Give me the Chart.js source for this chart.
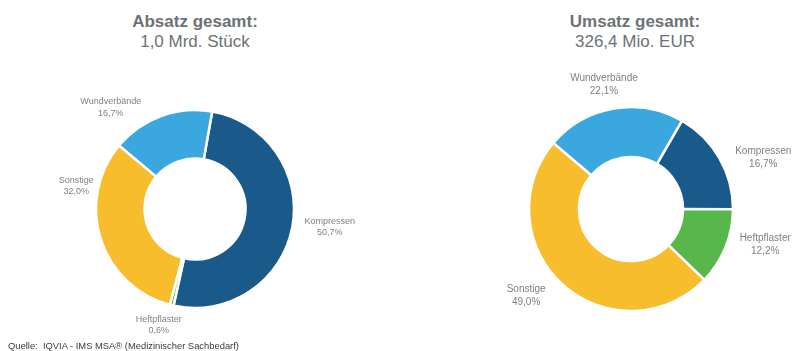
<!DOCTYPE html>
<html>
<head>
<meta charset="utf-8">
<script src="https://cdn.jsdelivr.net/npm/chart.js@4/dist/chart.umd.min.js"></script>
<style>
  html, body { margin:0; padding:0; background:#fff; }
  #wrap { position:relative; width:810px; height:351px; overflow:hidden; font-family:"Liberation Sans", Arial, sans-serif; }
  .title { position:absolute; width:300px; text-align:center; color:#6c7276; font-size:17px; line-height:20px; }
  .title b { font-weight:bold; }
  canvas { position:absolute; top:0; }
  #src { position:absolute; left:8px; top:340px; font-size:9.4px; color:#3a3a3a; white-space:pre; }
</style>
</head>
<body>
<div id="wrap">
  <div class="title" style="left:45px; top:12px;"><b>Absatz gesamt:</b><br>1,0 Mrd. Stück</div>
  <div class="title" style="left:485px; top:12px;"><b>Umsatz gesamt:</b><br>326,4 Mio. EUR</div>
  <canvas id="c1" width="405" height="351" style="left:0px;width:405px;height:351px"></canvas>
  <canvas id="c2" width="405" height="351" style="left:405px;width:405px;height:351px"></canvas>
  <div id="src">Quelle:  IQVIA - IMS MSA® (Medizinischer Sachbedarf)</div>
</div>
<script>
// ---- data ----
const categories = ["Kompressen", "Heftpflaster", "Sonstige", "Wundverbände"];
const absatzValues = [50.7, 0.6, 32.0, 16.7];
const umsatzValues = [16.7, 12.2, 49.0, 22.1];
const absatzLabels = ["50,7%", "0,6%", "32,0%", "16,7%"];
const umsatzLabels = ["16,7%", "12,2%", "49,0%", "22,1%"];

const colors = ["#1a5a8b", "#57b74b", "#f8bd2d", "#3aa8de"];

// label placement relative to arc mid-angle (deg) and outer radius (px)
const labelPlugin = {
  id: 'outLabels',
  afterDatasetsDraw(chart, args, opts) {
    const ctx = chart.ctx;
    const meta = chart.getDatasetMeta(0);
    ctx.save();
    ctx.fillStyle = opts.color;
    ctx.font = opts.fontSize + 'px "Liberation Sans", Arial, sans-serif';
    ctx.textAlign = 'center';
    ctx.textBaseline = 'middle';
    meta.data.forEach((arc, i) => {
      const p = arc.getProps(['x','y','startAngle','endAngle','outerRadius'], true);
      const mid = (p.startAngle + p.endAngle) / 2 + opts.delta[i] * Math.PI / 180;
      const d = p.outerRadius + opts.extra[i];
      const x = p.x + Math.cos(mid) * d;
      const y = p.y + Math.sin(mid) * d;
      ctx.fillText(chart.data.labels[i], x, y - opts.lineH / 2);
      ctx.fillText(opts.values[i], x, y + opts.lineH / 2);
    });
    ctx.restore();
  }
};

function makeChart(id, values, valueLabels, rotation, radius, padding, labelOpts) {
  return new Chart(document.getElementById(id), {
    type: 'doughnut',
    data: {
      labels: categories,
      datasets: [{
        data: values,
        backgroundColor: colors,
        borderColor: '#ffffff',
        borderWidth: 2.5,
        hoverOffset: 0
      }]
    },
    options: {
      responsive: false,
      animation: false,
      rotation: rotation,
      radius: radius,
      cutout: '51%',
      layout: { padding: padding },
      events: [],
      plugins: {
        legend: { display: false },
        tooltip: { enabled: false },
        outLabels: Object.assign({ values: valueLabels, color: '#808080' }, labelOpts)
      }
    },
    plugins: [labelPlugin]
  });
}

makeChart('c1', absatzValues, absatzLabels, 10, 99,
  { left: 95, right: 110, top: 109, bottom: 42 },
  { fontSize: 9, lineH: 11.5, delta: [-3.6, 3.8, 28.7, -19.6], extra: [37, 22.5, 22, 33] });

makeChart('c2', umsatzValues, umsatzLabels, 30, 102,
  { left: 126, right: 79, top: 109, bottom: 42 },
  { fontSize: 10, lineH: 13, delta: [8.6, -7, 8.2, -2.5], extra: [40, 37, 34, 25] });
</script>
</body>
</html>
